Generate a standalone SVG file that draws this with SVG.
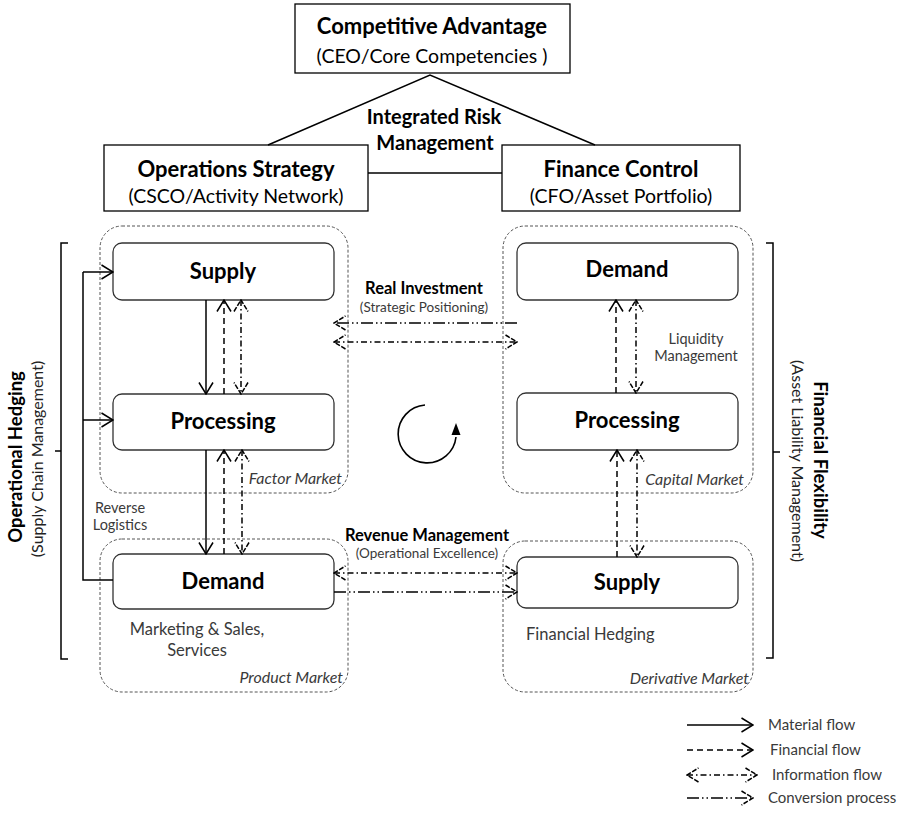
<svg xmlns="http://www.w3.org/2000/svg" width="917" height="814" viewBox="0 0 917 814">
<style>
text { font-family: Lato, "Liberation Sans", sans-serif; }
.box { fill: #fff; stroke: #000; stroke-width: 1.3; }
.node { fill: #fff; stroke: #333; stroke-width: 1.3; }
.mkt { fill: none; stroke: #555; stroke-width: 1; stroke-dasharray: 3 2; }
.ln { fill: none; stroke: #000; stroke-width: 1.5; }
.fl { fill: none; stroke: #000; stroke-width: 1.5; }
.mat { marker-end: url(#ah); }
.fin { stroke-dasharray: 6 4; marker-end: url(#ah); }
.inf { stroke-dasharray: 6 3 1.5 3; marker-start: url(#ahd); marker-end: url(#ahd); }
.conv { stroke-dasharray: 12 3 1.5 3 1.5 3; marker-end: url(#ahd); }
.t1 { font-size: 22px; font-weight: bold; fill: #000; text-anchor: middle; }
.t2 { font-size: 19.5px; fill: #000; text-anchor: middle; }
.nt { font-size: 22px; font-weight: bold; fill: #000; text-anchor: middle; dominant-baseline: central; }
.irm { font-size: 20px; font-weight: bold; fill: #000; text-anchor: middle; }
.lbl { font-size: 15px; fill: #3a3a3a; }
.sm { font-size: 14.5px; }
.mid { text-anchor: middle; }
.mk { font-size: 16px; font-style: italic; fill: #3a3a3a; text-anchor: end; }
.hb { font-size: 16.5px; font-weight: bold; fill: #000; text-anchor: middle; }
.hs { font-size: 13.5px; fill: #3a3a3a; text-anchor: middle; }
.rb { font-size: 18.5px; font-weight: bold; fill: #000; text-anchor: middle; dominant-baseline: central; }
.rs { font-size: 16px; fill: #222; text-anchor: middle; dominant-baseline: central; }
</style>
<defs>
<marker id="ah" viewBox="0 0 13 16" refX="12" refY="8" markerWidth="13" markerHeight="16" markerUnits="userSpaceOnUse" orient="auto-start-reverse">
<path d="M0.5,1 L12,8 L0.5,15" fill="none" stroke="#000" stroke-width="1.5"/>
</marker>
<marker id="ahd" viewBox="0 0 13 16" refX="12" refY="8" markerWidth="13" markerHeight="16" markerUnits="userSpaceOnUse" orient="auto-start-reverse">
<path d="M0.5,1 L12,8 L0.5,15" fill="none" stroke="#000" stroke-width="1.5" stroke-dasharray="5 1.5"/>
</marker>
</defs>
<rect width="917" height="814" fill="#fff"/>

<!-- market areas -->
<g id="factor-market">
<rect class="mkt" x="100" y="226" width="248" height="267" rx="22"/>
<text class="mk" x="342" y="484">Factor Market</text>
</g>
<g id="product-market">
<rect class="mkt" x="100" y="539" width="248" height="153" rx="22"/>
<text class="mk" x="343" y="683">Product Market</text>
</g>
<g id="capital-market">
<rect class="mkt" x="503" y="226" width="250" height="267" rx="22"/>
<text class="mk" x="744" y="485">Capital Market</text>
</g>
<g id="derivative-market">
<rect class="mkt" x="503" y="541" width="250" height="151" rx="22"/>
<text class="mk" x="749" y="684">Derivative Market</text>
</g>

<!-- top nodes -->
<g id="competitive-advantage">
<rect class="box" x="295" y="4" width="275" height="69"/>
<text class="t1" x="432" y="34">Competitive Advantage</text>
<text class="t2" x="432" y="63">(CEO/Core Competencies )</text>
</g>
<g id="operations-strategy">
<rect class="box" x="104" y="145" width="264" height="66"/>
<text class="t1" x="236" y="177">Operations Strategy</text>
<text class="t2" x="236" y="203">(CSCO/Activity Network)</text>
</g>
<g id="finance-control">
<rect class="box" x="502" y="145" width="238" height="66"/>
<text class="t1" x="621" y="177">Finance Control</text>
<text class="t2" x="621" y="203">(CFO/Asset Portfolio)</text>
</g>
<g id="integrated-risk">
<text class="irm" x="434" y="124">Integrated Risk</text>
<text class="irm" x="435" y="150">Management</text>
</g>

<!-- process nodes -->
<g id="op-supply">
<rect class="node" x="113" y="243" width="221" height="57" rx="9"/>
<text class="nt" x="223" y="270">Supply</text>
</g>
<g id="op-processing">
<rect class="node" x="113" y="394" width="221" height="56" rx="9"/>
<text class="nt" x="223" y="420">Processing</text>
</g>
<g id="op-demand">
<rect class="node" x="113" y="554" width="221" height="55" rx="9"/>
<text class="nt" x="223" y="580">Demand</text>
</g>
<g id="fin-demand">
<rect class="node" x="517" y="243" width="221" height="57" rx="9"/>
<text class="nt" x="627" y="268">Demand</text>
</g>
<g id="fin-processing">
<rect class="node" x="517" y="393" width="221" height="57" rx="9"/>
<text class="nt" x="627" y="419">Processing</text>
</g>
<g id="fin-supply">
<rect class="node" x="517" y="557" width="221" height="51" rx="9"/>
<text class="nt" x="627" y="581">Supply</text>
</g>

<!-- labels -->
<g id="labels">
<text class="lbl sm mid" x="120" y="513">Reverse</text>
<text class="lbl sm mid" x="120" y="530">Logistics</text>
<text class="lbl mid" x="197" y="635" style="font-size:16.5px">Marketing &amp; Sales,</text>
<text class="lbl mid" x="197" y="656" style="font-size:16.5px">Services</text>
<text class="lbl" x="526" y="640" style="font-size:16.5px">Financial Hedging</text>
<text class="lbl sm mid" x="696" y="344">Liquidity</text>
<text class="lbl sm mid" x="696" y="361">Management</text>
<text class="hb" x="424" y="294">Real Investment</text>
<text class="hs" x="424" y="312">(Strategic Positioning)</text>
<text class="hb" x="427" y="541">Revenue Management</text>
<text class="hs" x="427" y="558">(Operational Excellence)</text>
</g>

<!-- side brackets -->
<g id="operational-hedging">
<path class="ln" d="M68,243 H61 V659 H68 M61,451 H55"/>
<text class="rb" transform="translate(15,457) rotate(-90)">Operational Hedging</text>
<text class="rs" transform="translate(36,459) rotate(-90)">(Supply Chain Management)</text>
</g>
<g id="financial-flexibility">
<path class="ln" d="M766,243 H773 V658 H766 M773,452 H780"/>
<text class="rb" transform="translate(821,460) rotate(90)">Financial Flexibility</text>
<text class="rs" transform="translate(798,461) rotate(90)">(Asset Liability Management)</text>
</g>

<!-- connectors -->
<g id="connectors">
<path class="ln" d="M268,145 L430,75 L595,145"/>
<path class="ln" d="M368,173 H502"/>
<!-- reverse logistics loop -->
<path class="fl" d="M113,580 H83 V272"/>
<path class="fl mat" d="M83,272 H113"/>
<path class="fl mat" d="M83,420 H113"/>
<!-- left column -->
<path class="fl mat" d="M206,300 V394"/>
<path class="fl fin" d="M224,394 V300"/>
<path class="fl inf" d="M241,300 V394"/>
<path class="fl mat" d="M206,450 V554"/>
<path class="fl fin" d="M224,554 V450"/>
<path class="fl inf" d="M242,450 V554"/>
<!-- right column -->
<path class="fl fin" d="M616,393 V300"/>
<path class="fl inf" d="M636,300 V393"/>
<path class="fl fin" d="M617,557 V450"/>
<path class="fl inf" d="M637,450 V557"/>
<!-- horizontal -->
<path class="fl conv" d="M517,323 H334"/>
<path class="fl inf" d="M334,342 H517"/>
<path class="fl inf" d="M334,573 H517"/>
<path class="fl conv" d="M334,592 H517"/>
</g>

<!-- cycle symbol -->
<g id="cycle">
<path d="M425,405 A29,29 0 1 0 456,437" fill="none" stroke="#000" stroke-width="1.6"/>
<polygon points="456,423 451.5,435 460.5,435" fill="#000"/>
</g>

<!-- legend -->
<g id="legend">
<path class="fl mat" d="M687,725 H753"/>
<path class="fl fin" d="M687,750 H753"/>
<path class="fl inf" d="M687,775 H757"/>
<path class="fl conv" d="M687,798 H753"/>
<text class="lbl" x="768" y="730">Material flow</text>
<text class="lbl" x="770" y="755">Financial flow</text>
<text class="lbl" x="772" y="780">Information flow</text>
<text class="lbl" x="768" y="803">Conversion process</text>
</g>
</svg>
